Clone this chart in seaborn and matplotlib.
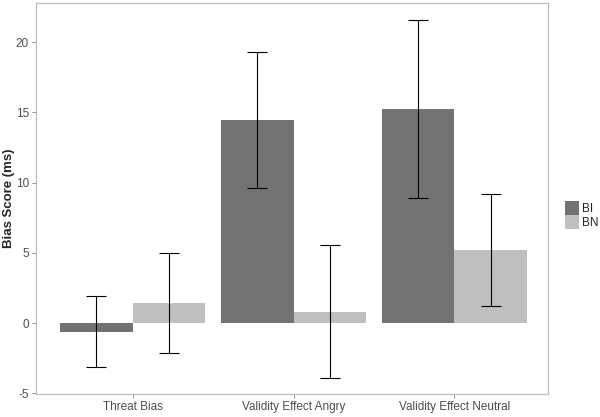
import pandas as pd
import seaborn as sns
import matplotlib.pyplot as plt
from matplotlib.patches import Patch

# Values
conditions = ['Threat Bias', 'Validity Effect Angry', 'Validity Effect Neutral']
groups = ['BI', 'BN']
bi_mean = [-0.62, 14.43, 15.24]
bi_low = [-3.15, 9.62, 8.91]
bi_high = [1.92, 19.31, 21.58]
bn_mean = [1.42, 0.81, 5.24]
bn_low = [-2.15, -3.93, 1.21]
bn_high = [5.00, 5.57, 9.22]

df = pd.DataFrame({
    'condition': conditions * 2,
    'group': ['BI'] * 3 + ['BN'] * 3,
    'score': bi_mean + bn_mean,
    'low': bi_low + bn_low,
    'high': bi_high + bn_high,
})

sns.set_style('white')
plt.rcParams['font.family'] = ['Liberation Sans', 'DejaVu Sans']

palette = {'BI': '#727272', 'BN': '#bfbfbf'}

fig = plt.figure(figsize=(6, 4.17), dpi=100)
ax = fig.add_axes([0.06, 0.055, 0.853, 0.938])

sns.barplot(data=df, x='condition', y='score', hue='group', order=conditions,
            hue_order=groups, palette=palette, errorbar=None, width=0.9,
            saturation=1, linewidth=0, ax=ax, legend=False)

# error bars at the bar centres
bars = [p for p in ax.patches if p.get_width() > 0]
for g_i, g in enumerate(groups):
    sub = df[df['group'] == g].set_index('condition').loc[conditions]
    for c_i, c in enumerate(conditions):
        bar = bars[g_i * len(conditions) + c_i]
        xc = bar.get_x() + bar.get_width() / 2
        m = sub.loc[c, 'score']
        ax.errorbar(xc, m, yerr=[[m - sub.loc[c, 'low']], [sub.loc[c, 'high'] - m]],
                    fmt='none', ecolor='black', elinewidth=0.8, capsize=7.4,
                    capthick=0.8)

ax.set_xlim(-0.6, 2.58)
ax.set_ylim(-5.05, 22.8)
ax.set_yticks([-5, 0, 5, 10, 15, 20])
ax.set_yticklabels(['-5', '0', '5', '10', '15', '20'])
ax.set_xlabel('')
ax.set_ylabel('Bias Score (ms)', fontsize=9.5, fontweight='bold')
ax.yaxis.set_label_coords(-0.042, 0.5)
ax.tick_params(axis='both', labelsize=8.5, labelcolor='#4d4d4d', color='#7f7f7f',
               length=3, width=0.6, direction='out', bottom=True, left=True, pad=2)
for s in ax.spines.values():
    s.set_color('#bdbdbd')
    s.set_linewidth(0.9)

handles = [Patch(facecolor=palette[g], edgecolor='none', label=g) for g in groups]
fig.legend(handles=handles, loc='center left', bbox_to_anchor=(0.932, 0.485),
           frameon=False, fontsize=8.5, handlelength=1.2, handleheight=1.45,
           handletextpad=0.25, labelspacing=0.0, borderpad=0)

fig.savefig('out.png', dpi=100)
